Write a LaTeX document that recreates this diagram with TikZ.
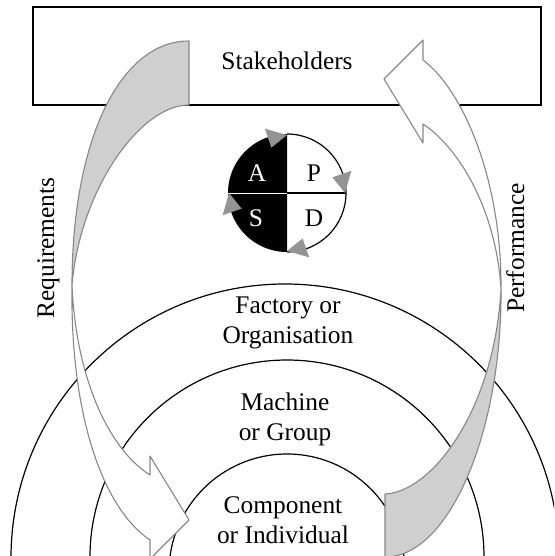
\documentclass[tikz,border=0pt]{standalone}
\usepackage{fontspec}
\setmainfont{Liberation Serif}
\usetikzlibrary{calc}

\definecolor{ribbonfill}{gray}{0.81}
\definecolor{ribbonline}{gray}{0.53}
\definecolor{tipgray}{gray}{0.58}

\begin{document}
\begin{tikzpicture}[x=1pt, y=-1pt,
    font=\fontsize{25.4}{30}\selectfont,
    ribbon/.style={draw=ribbonline, line width=1.1pt, line join=round},
    ring/.style={draw, line width=1.2pt},
    ringtext/.style={align=center, anchor=base}]
  \useasboundingbox (0,0) rectangle (554,556);
  \clip (0,0) rectangle (554,556);

  % stakeholders box
  \node [draw, line width=1.4pt, minimum width=508pt, minimum height=98pt,
    inner sep=0pt] (box) at (287,56) {};
  \node [anchor=base] (stake) at (287,70) {Stakeholders};

  % levels
  \draw [ring] (285,558) circle [radius=274];
  \draw [ring] (287,557) circle [radius=197];
  \draw [ring] (287,572) circle [radius=118];

  % base of last line
  \node [ringtext] (factory) at (288,343) {Factory or\\Organisation};
  \node [ringtext] (machine) at (285,440) {Machine\\or Group};
  \node [ringtext] (component) at (283,543) {Component\\or Individual};

  % PDCA wheel
  \coordinate (pdca) at (287,193);
  \fill (pdca) ++(0,-59) arc [start angle=-90, end angle=-270, radius=59] -- cycle;
  \draw [line width=1.2pt]
    (pdca) ++(0,-59) arc [start angle=-90, end angle=90, radius=59];
  \draw [white, line width=1pt] (pdca) -- ++(-59,0);
  \draw [line width=1.2pt] (pdca) -- ++(59,0);
  \foreach \a in {-90,0,90,180}
    \fill [tipgray] ($(pdca)+(\a:58)$) -- ($(pdca)+(\a-19:48)$)
      -- ($(pdca)+(\a-19:68)$) -- cycle;

  \node [anchor=base, white] (act) at (257,181) {A};
  \node [anchor=base] (plan) at (314,181) {P};
  \node [anchor=base, white] (study) at (256,226) {S};
  \node [anchor=base] (do) at (314,226) {D};

  % requirements ribbon
  \filldraw [ribbon, fill=ribbonfill]
    (189,41) .. controls (120,41) and (72,140) .. (72,285)
    .. controls (80,190) and (140,105) .. (189,105) -- cycle;
  \filldraw [ribbon, fill=white]
    (72,285) .. controls (70,420) and (105,510) .. (150,540)
    -- (150,559) -- (189,520) -- (150,456) -- (150,475)
    .. controls (110,450) and (76,380) .. (72,285) -- cycle;

  % performance ribbon
  \filldraw [ribbon, fill=white]
    (501,290) .. controls (502,180) and (463,90) .. (423,60)
    -- (423,40) -- (384,79) -- (423,143) -- (423,124)
    .. controls (462,150) and (497,215) .. (501,290) -- cycle;
  \filldraw [ribbon, fill=ribbonfill]
    (501,290) .. controls (502,430) and (450,557) .. (385,557)
    -- (385,494) .. controls (432,492) and (494,410) .. (501,290) -- cycle;

  \node [rotate=90, anchor=base] (req) at (54,248) {Requirements};
  \node [rotate=90, anchor=base] (perf) at (524,248) {Performance};
\end{tikzpicture}
\end{document}
